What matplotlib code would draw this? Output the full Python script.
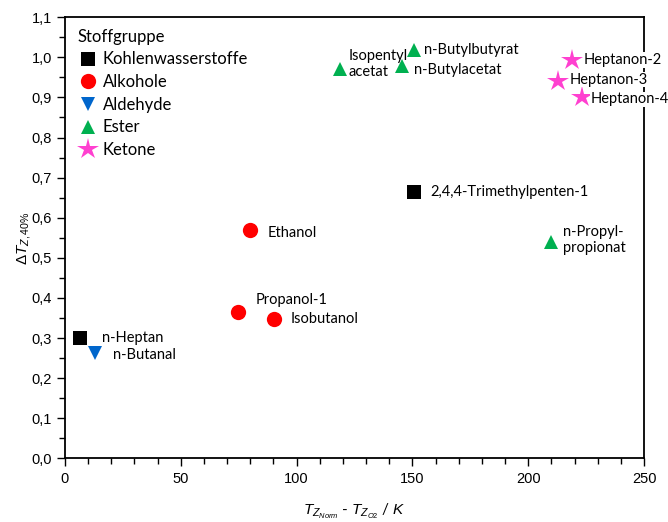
import numpy as np
import matplotlib
matplotlib.use('Agg')
import matplotlib.pyplot as plt
from matplotlib.ticker import MultipleLocator, FuncFormatter

plt.rcParams['font.family'] = ['Lato', 'DejaVu Sans']
plt.rcParams['mathtext.fontset'] = 'custom'
plt.rcParams['mathtext.it'] = 'Liberation Sans:italic'
plt.rcParams['mathtext.rm'] = 'Liberation Sans'

# data: (x = T_Z,Norm - T_Z,O2 in K, y = delta T_Z,40%)
groups = ['Kohlenwasserstoffe', 'Alkohole', 'Aldehyde', 'Ester', 'Ketone']

kw_names = ['n-Heptan', '2,4,4-Trimethylpenten-1']
kw_x = [6.5, 150.7]
kw_y = [0.300, 0.663]

alk_names = ['Propanol-1', 'Isobutanol', 'Ethanol']
alk_x = [74.5, 90.2, 79.9]
alk_y = [0.366, 0.347, 0.569]

ald_names = ['n-Butanal']
ald_x = [13.0]
ald_y = [0.262]

est_names = ['Isopentyl\nacetat', 'n-Butylacetat', 'n-Butylbutyrat', 'n-Propyl-\npropionat']
est_x = [118.7, 145.6, 150.8, 209.8]
est_y = [0.970, 0.979, 1.018, 0.539]

ket_names = ['Heptanon-2', 'Heptanon-3', 'Heptanon-4']
ket_x = [219.0, 213.0, 223.0]
ket_y = [0.993, 0.942, 0.900]

# label offsets in pixels (layout only)
offsets = {
    'n-Heptan': (22, 0), '2,4,4-Trimethylpenten-1': (16, 0),
    'Propanol-1': (18, 12), 'Isobutanol': (17, 0), 'Ethanol': (18, -3),
    'n-Butanal': (18, -2),
    'Isopentyl\nacetat': (9, 5), 'n-Butylacetat': (12, -4),
    'n-Butylbutyrat': (10, 0), 'n-Propyl-\npropionat': (12, 2),
    'Heptanon-2': (11, 0), 'Heptanon-3': (11, 1), 'Heptanon-4': (9, -2),
}

fig = plt.figure(figsize=(6.68, 5.22), dpi=100)
ax = fig.add_axes([0.0973, 0.122, 0.867, 0.845])

series = [
    (kw_x, kw_y, kw_names, 's', 'black', 10),
    (alk_x, alk_y, alk_names, 'o', '#FF0000', 11),
    (ald_x, ald_y, ald_names, 'v', '#0066CC', 10),
    (est_x, est_y, est_names, '^', '#00B050', 10),
    (ket_x, ket_y, ket_names, '*', '#FF40D0', 16),
]

for (xs, ys, names, m, c, ms), g in zip(series, groups):
    ax.plot(xs, ys, linestyle='none', marker=m, color=c, markersize=ms,
            markeredgewidth=0, label=g, clip_on=False, zorder=3)
    for x, y, n in zip(xs, ys, names):
        ha_bg = dict(facecolor='white', edgecolor='none', pad=0.5) if n.startswith('Heptanon') else None
        ax.annotate(n, (x, y), xytext=offsets[n], textcoords='offset pixels',
                    ha='left', va='center', fontsize=10.5, linespacing=1.2,
                    bbox=ha_bg, annotation_clip=False, zorder=4)

ax.set_xlim(0, 250)
ax.set_ylim(0, 1.1)
ax.xaxis.set_major_locator(MultipleLocator(50))
ax.xaxis.set_minor_locator(MultipleLocator(10))
ax.yaxis.set_major_locator(MultipleLocator(0.1))
ax.yaxis.set_minor_locator(MultipleLocator(0.05))
ax.yaxis.set_major_formatter(FuncFormatter(lambda v, p: f'{v:.1f}'.replace('.', ',')))
ax.tick_params(which='major', length=6, width=1, labelsize=10.5, direction='out')
ax.tick_params(which='minor', length=4, width=1, direction='out')
for lbl in ax.get_xticklabels() + ax.get_yticklabels():
    lbl.set_fontfamily('Liberation Sans')
for s in ax.spines.values():
    s.set_linewidth(1.3)

ax.set_xlabel(r'$T_{Z_{Norm}}$ - $T_{Z_{O2}}$ / $K$', fontsize=11, labelpad=12)
ax.set_ylabel(r'$ΔT_{Z,40\%}$', fontsize=11)
ax.yaxis.set_label_coords(-0.056, 0.5)

leg = ax.legend(title='Stoffgruppe', loc='upper left', frameon=False, fontsize=12,
                title_fontsize=12, handletextpad=0.25, labelspacing=0.4,
                handlelength=1.3, bbox_to_anchor=(-0.005, 1.008), borderaxespad=0.5)
leg._legend_box.align = 'left'

fig.savefig('out.png', dpi=100)
